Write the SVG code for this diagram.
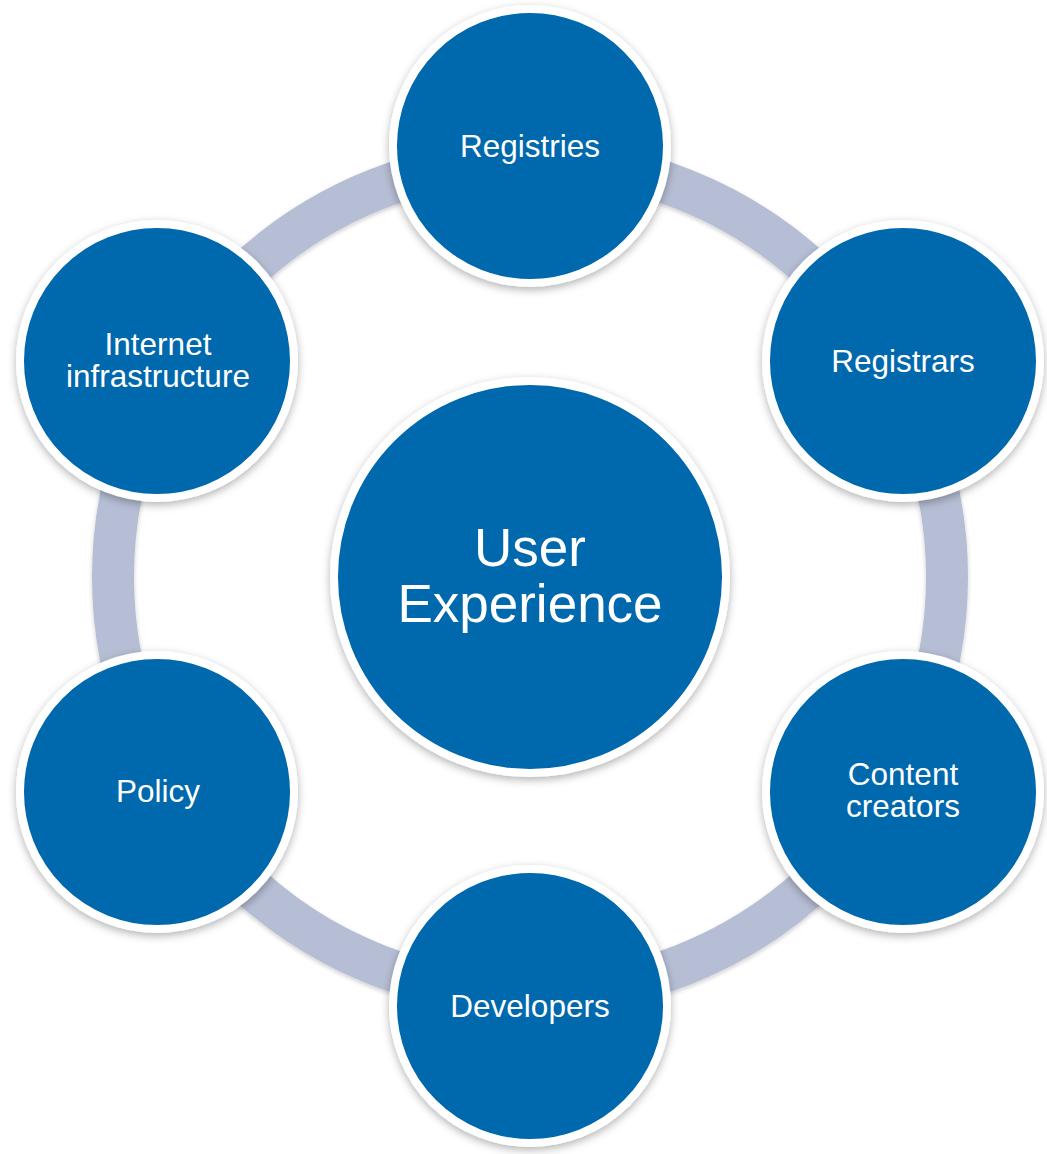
<svg xmlns="http://www.w3.org/2000/svg" width="1047" height="1154" viewBox="0 0 1047 1154">
<style>
.node{fill:#0067AC;stroke:#FFFFFF;stroke-width:8}
.lbl{font-family:"Liberation Sans",Arial,sans-serif;font-size:31.5px;fill:#FFFFFF;text-anchor:middle}
.big{font-size:53px}
.ring{fill:none;stroke:#B6BED5;stroke-width:42}
</style>
<defs>
<filter id="sh" x="-20%" y="-20%" width="140%" height="140%">
<feDropShadow dx="0" dy="3" stdDeviation="4" flood-color="#000" flood-opacity="0.3"/>
</filter>
<filter id="sh2" x="-10%" y="-10%" width="120%" height="120%">
<feDropShadow dx="0" dy="2" stdDeviation="2" flood-color="#000" flood-opacity="0.2"/>
</filter>
</defs>
<rect width="1047" height="1154" fill="#FFFFFF"/>
<g id="connectors">
<circle class="ring" cx="530" cy="577" r="417" filter="url(#sh2)"/>
</g>
<g id="center">
<circle class="node" cx="530" cy="577" r="196" filter="url(#sh)"/>
<text class="lbl big" x="530" y="566">User<tspan x="530" dy="56">Experience</tspan></text>
</g>
<g id="registries">
<circle class="node" cx="530" cy="146" r="137" filter="url(#sh)"/>
<text class="lbl" x="530" y="157">Registries</text>
</g>
<g id="registrars">
<circle class="node" cx="903" cy="361" r="137" filter="url(#sh)"/>
<text class="lbl" x="903" y="372">Registrars</text>
</g>
<g id="content-creators">
<circle class="node" cx="903" cy="792" r="137" filter="url(#sh)"/>
<text class="lbl" x="903" y="785">Content<tspan x="903" dy="32">creators</tspan></text>
</g>
<g id="developers">
<circle class="node" cx="530" cy="1006" r="137" filter="url(#sh)"/>
<text class="lbl" x="530" y="1017">Developers</text>
</g>
<g id="policy">
<circle class="node" cx="157" cy="792" r="137" filter="url(#sh)"/>
<text class="lbl" x="158" y="802">Policy</text>
</g>
<g id="internet-infrastructure">
<circle class="node" cx="157" cy="361" r="137" filter="url(#sh)"/>
<text class="lbl" x="158" y="355">Internet<tspan x="158" dy="32">infrastructure</tspan></text>
</g>
</svg>
